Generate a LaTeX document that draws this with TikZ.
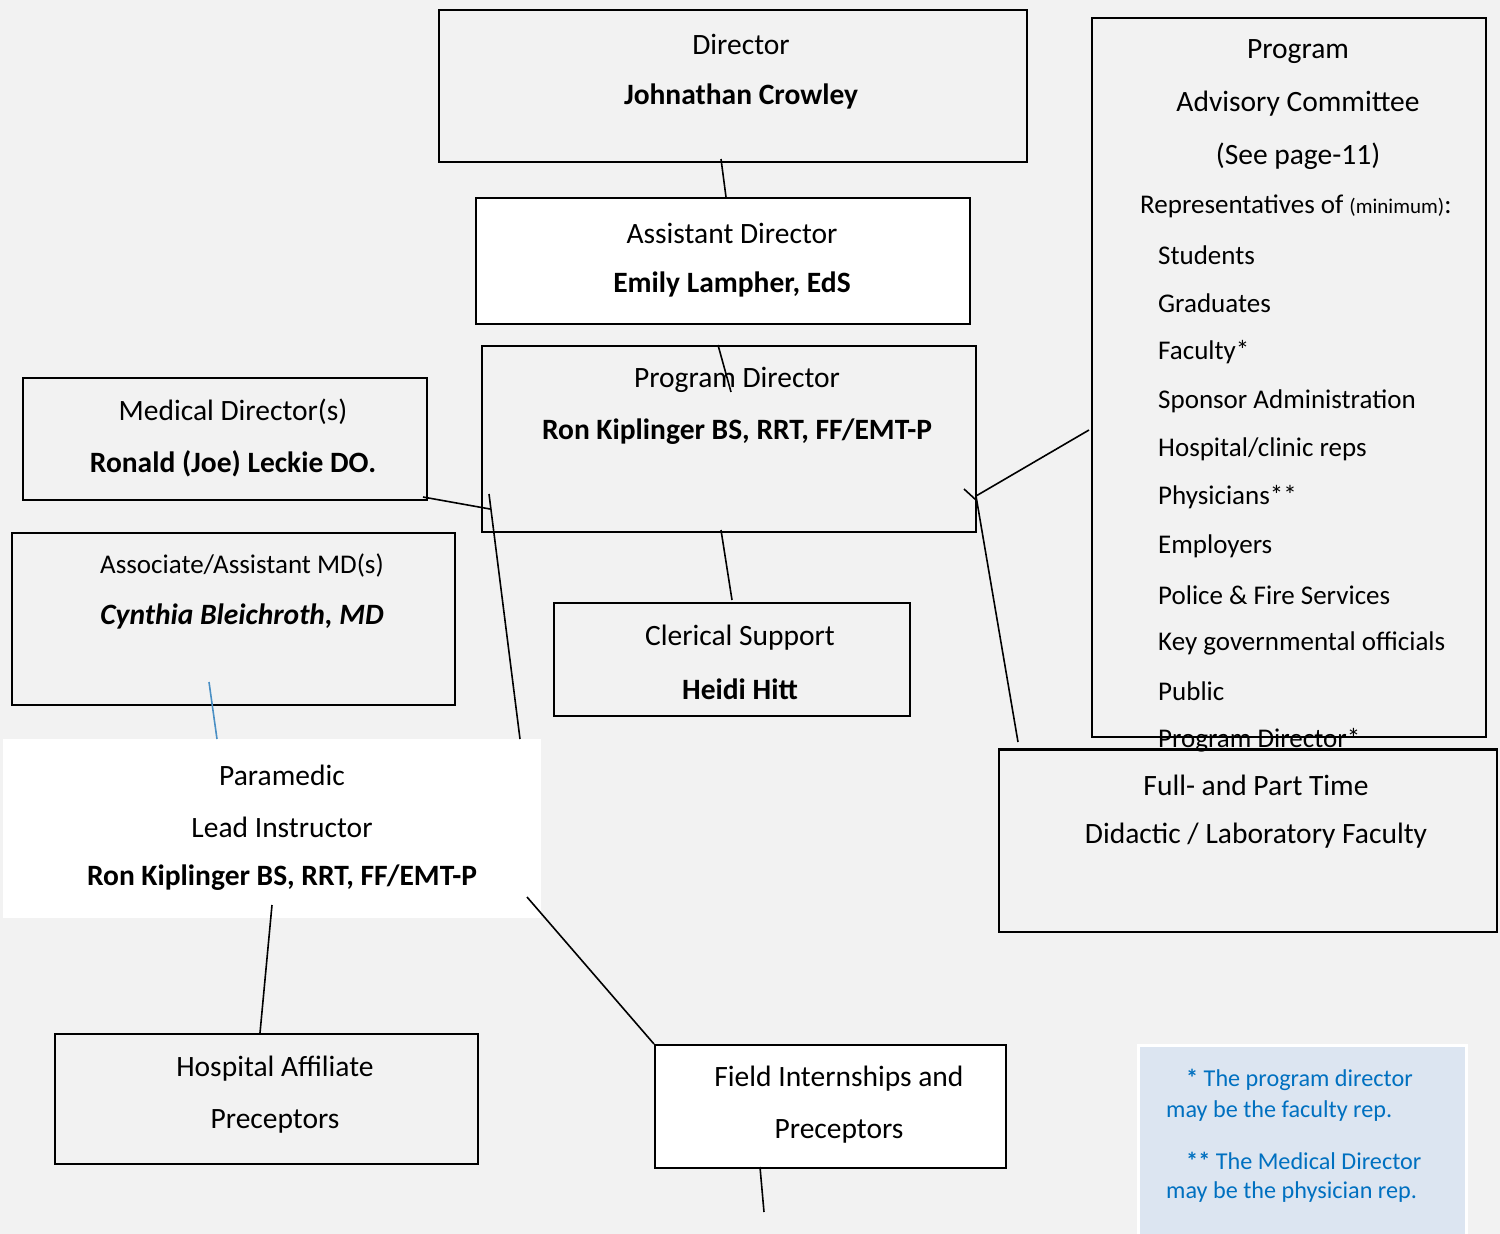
\documentclass[tikz,border=0pt]{standalone}
\usepackage{fontspec}
\setmainfont{Carlito}
\definecolor{bg}{HTML}{F2F2F2}
\definecolor{notefill}{HTML}{DCE5F1}
\definecolor{noteblue}{HTML}{0070C0}
\definecolor{linkblue}{HTML}{4A8FC4}
\begin{document}
\begin{tikzpicture}[x=1pt,y=-1pt,
  box/.style={draw=black, line width=1.8pt, anchor=north west, inner sep=0pt, fill=bg},
  wbox/.style={box, fill=white},
  txt/.style={inner sep=0pt, font=\fontsize{29.5}{35}\selectfont},
  btxt/.style={txt, font=\fontsize{29.5}{35}\selectfont\bfseries},
  ltxt/.style={inner sep=0pt, anchor=west, font=\fontsize{27}{32}\selectfont},
  ntxt/.style={inner sep=0pt, anchor=west, text=noteblue, font=\fontsize{24.2}{29}\selectfont},
  conn/.style={draw=black, line width=1.6pt}]
\fill[bg] (0,0) rectangle (1500,1234);
\useasboundingbox (0,0) rectangle (1500,1234);

% boxes
\node[box, minimum width=588pt, minimum height=152pt] (dir) at (438,9) {};
\node[wbox, minimum width=494pt, minimum height=126pt] (adir) at (475,197) {};
\node[box, minimum width=494pt, minimum height=186pt] (pdir) at (481,345) {};
\node[box, minimum width=404pt, minimum height=122pt] (med) at (22,377) {};
\node[box, minimum width=443pt, minimum height=172pt] (assoc) at (11,532) {};
\node[box, minimum width=356pt, minimum height=113pt] (cler) at (553,602) {};
\node[box, minimum width=394pt, minimum height=719pt] (adv) at (1091,17) {};
\node[anchor=north west, inner sep=0pt, fill=white, minimum width=538pt, minimum height=179pt] (para) at (3,739) {};
\node[box, minimum width=423pt, minimum height=130pt] (hosp) at (54,1033) {};
\node[wbox, minimum width=351pt, minimum height=123pt] (field) at (654,1044) {};
\node[anchor=north west, inner sep=0pt, fill=notefill, draw=white, line width=2.5pt, minimum width=328pt, minimum height=195pt] (note) at (1137,1044) {};

% texts
\node[txt] at (741,44) {Director};
\node[btxt] at (741,96) {Johnathan Crowley};
\node[txt] at (732,233) {Assistant Director};
\node[btxt] at (732,284) {Emily Lampher, EdS};
\node[txt] at (737,380) {Program Director};
\node[btxt] at (737,432) {Ron Kiplinger BS, RRT, FF/EMT-P};
\node[txt] at (233,412) {Medical Director(s)};
\node[btxt] at (233,464) {Ronald (Joe) Leckie DO.};
\node[txt, font=\fontsize{27}{32}\selectfont] at (242,565) {Associate/Assistant MD(s)};
\node[btxt, font=\fontsize{29.5}{35}\selectfont\bfseries\itshape] at (242,616) {Cynthia Bleichroth, MD};
\node[txt] at (740,638) {Clerical Support};
\node[btxt] at (740,689) {Heidi Hitt};

\node[txt] at (1298,52) {Program};
\node[txt] at (1298,104) {Advisory Committee};
\node[txt] at (1298,156) {(See page-11)};
\node[ltxt] at (1140,206) {Representatives of {\fontsize{21}{25}\selectfont(minimum)}:};
\node[ltxt] at (1158,255) {Students};
\node[ltxt] at (1158,303) {Graduates};
\node[ltxt] at (1158,352) {Faculty*};
\node[ltxt] at (1158,401) {Sponsor Administration};
\node[ltxt] at (1158,449) {Hospital/clinic reps};
\node[ltxt] at (1158,497) {Physicians**};
\node[ltxt] at (1158,546) {Employers};
\node[ltxt] at (1158,595) {Police \& Fire Services};
\node[ltxt] at (1158,643) {Key governmental officials};
\node[ltxt] at (1158,691) {Public};

\node[box, minimum width=498pt, minimum height=182pt] (fac) at (998,749) {};
\node[ltxt] at (1158,740) {Program Director*};
\draw[line width=1.8pt] (fac.north west) -- (fac.north east);
\node[txt] at (1256,785) {Full- and Part Time};
\node[txt] at (1256,836) {Didactic / Laboratory Faculty};

\node[txt] at (282,775) {Paramedic};
\node[txt] at (282,827) {Lead Instructor};
\node[btxt] at (282,878) {Ron Kiplinger BS, RRT, FF/EMT-P};
\node[txt] at (275,1069) {Hospital Affiliate};
\node[txt] at (275,1121) {Preceptors};
\node[txt] at (839,1079) {Field Internships and};
\node[txt] at (839,1131) {Preceptors};

\node[ntxt] at (1186,1080) {\textbf{*} The program director};
\node[ntxt] at (1166,1111) {may be the faculty rep.};
\node[ntxt] at (1186,1161) {\textbf{**} The Medical Director};
\node[ntxt] at (1166,1192) {may be the physician rep.};

% connector end points
\coordinate (c1a) at (721,159); \coordinate (c1b) at (726,197);
\coordinate (c2a) at (718,345); \coordinate (c2b) at (731,392);
\coordinate (c3a) at (423,497); \coordinate (c3b) at (490,509);
\coordinate (c4a) at (489,494); \coordinate (c4b) at (520,739);
\coordinate (c5a) at (721,530); \coordinate (c5b) at (732,600);
\coordinate (c6a) at (1089,430); \coordinate (c6b) at (976,496);
\coordinate (c6t) at (964,489); \coordinate (c6u) at (976,500);
\coordinate (c7b) at (1018,742);
\coordinate (c8a) at (209,682); \coordinate (c8b) at (217,739);
\coordinate (c9a) at (272,905); \coordinate (c9b) at (260,1033);
\coordinate (c10a) at (527,897); \coordinate (c10b) at (654,1044);
\coordinate (c11a) at (760,1167); \coordinate (c11b) at (764,1212);

\draw[conn] (c1a) -- (c1b);
\draw[conn] (c2a) -- (c2b);
\draw[conn] (c3a) -- (c3b);
\draw[conn] (c4a) -- (c4b);
\draw[conn] (c5a) -- (c5b);
\draw[conn] (c6a) -- (c6b);
\draw[conn] (c6t) -- (c6u);
\draw[conn] (c6b) -- (c7b);
\draw[conn, draw=linkblue] (c8a) -- (c8b);
\draw[conn] (c9a) -- (c9b);
\draw[conn] (c10a) -- (c10b);
\draw[conn] (c11a) -- (c11b);
\end{tikzpicture}
\end{document}
